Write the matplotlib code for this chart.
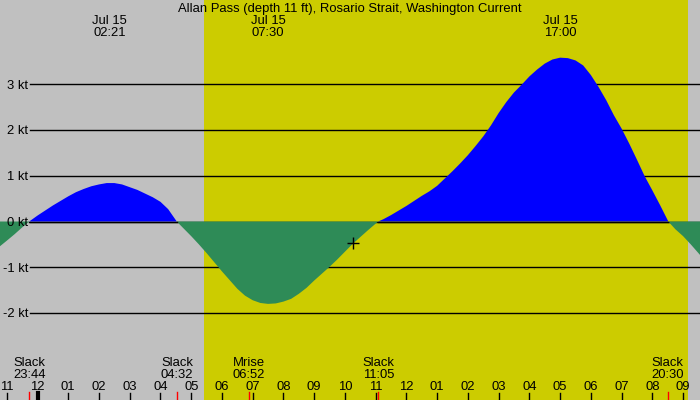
import matplotlib
matplotlib.use('Agg')
import matplotlib.pyplot as plt
import numpy as np

# current speed (kt), hours since Jul 15 00:00
hours = [-1.22, -1.0, -0.75, -0.5, -0.27, 0.0, 0.25, 0.5, 0.75, 1.0, 1.25, 1.5, 1.75,
         2.0, 2.25, 2.5, 2.75, 3.0, 3.25, 3.5, 3.75, 4.0, 4.25, 4.53,
         4.75, 5.0, 5.25, 5.5, 5.75, 6.0, 6.25, 6.5, 6.75, 7.0, 7.25, 7.5, 7.75,
         8.0, 8.25, 8.5, 8.75, 9.0, 9.25, 9.5, 9.75, 10.0, 10.25, 10.5, 10.75, 11.08,
         11.25, 11.5, 11.75, 12.0, 12.25, 12.5, 12.75, 13.0, 13.25, 13.5, 13.75,
         14.0, 14.25, 14.5, 14.75, 15.0, 15.25, 15.5, 15.75, 16.0, 16.25, 16.5, 16.75,
         17.0, 17.25, 17.5, 17.75, 18.0, 18.25, 18.5, 18.75, 19.0, 19.25, 19.5, 19.75,
         20.0, 20.25, 20.52, 20.75, 21.0, 21.25, 21.55]
speed = [-0.54, -0.42, -0.28, -0.13, 0.0, 0.13, 0.24, 0.35, 0.45, 0.55, 0.64, 0.71, 0.77,
         0.81, 0.84, 0.84, 0.81, 0.75, 0.69, 0.61, 0.53, 0.43, 0.27, 0.0,
         -0.15, -0.32, -0.50, -0.69, -0.89, -1.09, -1.28, -1.47, -1.62, -1.72, -1.78, -1.80, -1.79,
         -1.75, -1.69, -1.58, -1.45, -1.29, -1.14, -0.99, -0.83, -0.66, -0.49, -0.34, -0.19, 0.0,
         0.05, 0.14, 0.24, 0.34, 0.45, 0.56, 0.66, 0.78, 0.94, 1.10, 1.27,
         1.45, 1.65, 1.86, 2.10, 2.37, 2.61, 2.82, 2.99, 3.17, 3.32, 3.45, 3.54,
         3.58, 3.57, 3.52, 3.41, 3.20, 2.94, 2.65, 2.32, 2.03, 1.70, 1.35, 0.99,
         0.68, 0.36, 0.0, -0.17, -0.32, -0.50, -0.73]

kt_levels = [-2, -1, 0, 1, 2, 3]
kt_labels = ['-2 kt', '-1 kt', '0 kt', '1 kt', '2 kt', '3 kt']

hour_ticks = list(range(-1, 22))
hour_labels = ['11', '12', '01', '02', '03', '04', '05', '06', '07', '08', '09', '10',
               '11', '12', '01', '02', '03', '04', '05', '06', '07', '08', '09']

# events along the bottom
event_times = [-0.267, 4.533, 6.867, 11.083, 20.5]
event_names = ['Slack', 'Slack', 'Mrise', 'Slack', 'Slack']
event_clock = ['23:44', '04:32', '06:52', '11:05', '20:30']

# max / min currents along the top
peak_times = [2.35, 7.5, 17.0]
peak_clock = ['02:21', '07:30', '17:00']

sunrise, sunset = 5.41, 21.15
now_time, now_speed = 10.27, -0.48

title = 'Allan Pass (depth 11 ft), Rosario Strait, Washington Current'

plt.rcParams['font.family'] = ['Liberation Sans', 'DejaVu Sans']
plt.rcParams['font.size'] = 9.4

t = np.array(hours)
v = np.array(speed)

fig = plt.figure(figsize=(7, 4), dpi=100)
fig.patch.set_facecolor('#c0c0c0')
ax = fig.add_axes([0, 0, 1, 1])
ax.set_facecolor('#c0c0c0')
ax.set_xlim(-1.22, 21.55)
ax.set_ylim(-3.90, 4.84)
ax.axis('off')

ax.axvspan(sunrise, sunset, color='#cccc00', zorder=0, lw=0)

for lev, lab in zip(kt_levels, kt_labels):
    ax.axhline(lev, xmin=30 / 700, xmax=1, color='black', lw=1, zorder=1)
    ax.text(28 / 700, lev - 0.03, lab, transform=ax.get_yaxis_transform(),
            ha='right', va='center', zorder=5)

ax.fill_between(t, v, 0, where=v >= 0, interpolate=True, color='#0000ff', lw=0, zorder=2)
ax.fill_between(t, v, 0, where=v <= 0, interpolate=True, color='#2e8b57', lw=0, zorder=2)
ax.plot(t, np.where(v >= 0, 0, np.nan), color='black', lw=1, zorder=3)

ax.plot([now_time], [now_speed], marker='+', color='black', ms=9, mew=1, zorder=4)

xt = ax.get_xaxis_transform()
for h, lab in zip(hour_ticks, hour_labels):
    lw = 3 if h == 0 else 1
    ax.plot([h, h], [0, 7 / 400], transform=xt, color='black', lw=lw, clip_on=False)
    ax.text(h, 1 - 387.5 / 400, lab, transform=xt, ha='center', va='center')

for h, name, clk in zip(event_times, event_names, event_clock):
    ax.plot([h, h], [0, 8 / 400], transform=xt, color='red', lw=1)
    ax.text(h, 1 - 363.5 / 400, name, transform=xt, ha='center', va='center')
    ax.text(h, 1 - 375.5 / 400, clk, transform=xt, ha='center', va='center')

for h, clk in zip(peak_times, peak_clock):
    ax.text(h, 1 - 20.5 / 400, 'Jul 15', transform=xt, ha='center', va='center')
    ax.text(h, 1 - 32.5 / 400, clk, transform=xt, ha='center', va='center')

ax.text(0.5, 1 - 9 / 400, title, transform=ax.transAxes, ha='center', va='center')

fig.savefig('out.png', dpi=100, facecolor=fig.get_facecolor())
